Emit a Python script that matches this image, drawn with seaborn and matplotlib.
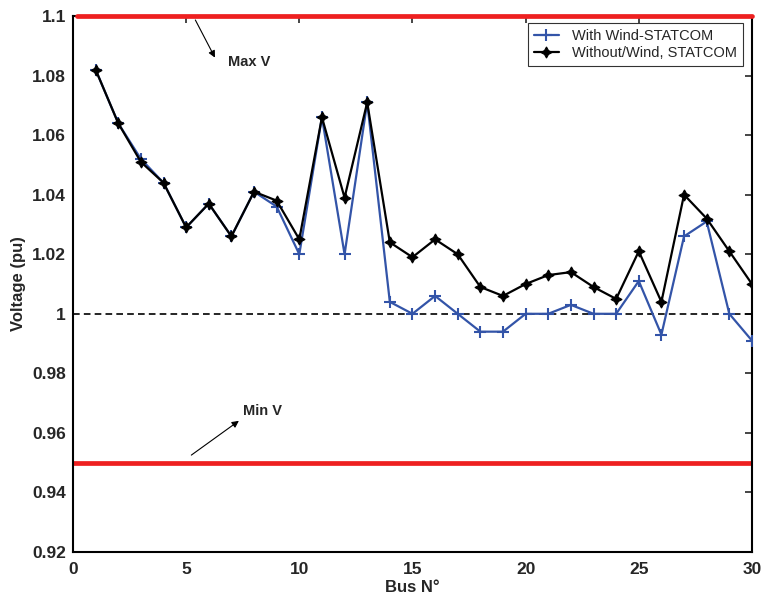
import numpy as np
import pandas as pd
import matplotlib
matplotlib.use("Agg")
import matplotlib.pyplot as plt
import seaborn as sns

# Bus numbers and voltage profiles
buses = list(range(1, 31))
with_wind = [1.082, 1.064, 1.052, 1.044, 1.029, 1.037, 1.026, 1.041, 1.036, 1.020,
             1.066, 1.020, 1.071, 1.004, 1.000, 1.006, 1.000, 0.994, 0.994, 1.000,
             1.000, 1.003, 1.000, 1.000, 1.011, 0.993, 1.026, 1.031, 1.000, 0.991]
without_wind = [1.082, 1.064, 1.051, 1.044, 1.029, 1.037, 1.026, 1.041, 1.038, 1.025,
                1.066, 1.039, 1.071, 1.024, 1.019, 1.025, 1.020, 1.009, 1.006, 1.010,
                1.013, 1.014, 1.009, 1.005, 1.021, 1.004, 1.040, 1.032, 1.021, 1.010]
max_v = 1.1
min_v = 0.95
nominal_v = 1.0
y_ticks = [0.92, 0.94, 0.96, 0.98, 1.0, 1.02, 1.04, 1.06, 1.08, 1.1]
y_tick_labels = ["0.92", "0.94", "0.96", "0.98", "1", "1.02", "1.04", "1.06", "1.08", "1.1"]

sns.set_style("white")
plt.rcParams['font.family'] = ['Liberation Sans', 'DejaVu Sans']

df = pd.DataFrame({"bus": buses, "with": with_wind, "without": without_wind})

fig = plt.figure(figsize=(7.61, 5.98), dpi=100)
ax = fig.add_axes([0.0959, 0.0769, 0.8922, 0.8963])

# limit lines
ax.axhline(max_v, xmin=0.006, color="#ee2020", lw=3.4, zorder=5, clip_on=False)
ax.axhline(min_v, color="#ee2020", lw=3.4, zorder=1)
ax.axhline(nominal_v, color="black", lw=1.2, ls=(0, (4, 2.5)), zorder=1)

sns.lineplot(data=df, x="bus", y="with", ax=ax, color="#3354a8", lw=1.6,
             marker="+", markersize=9, markeredgewidth=1.5, markeredgecolor="#3354a8",
             label="With Wind-STATCOM", zorder=3)
sns.lineplot(data=df, x="bus", y="without", ax=ax, color="black", lw=1.6,
             marker=(4, 1, 0), markersize=8, markeredgewidth=0.8,
             markeredgecolor="black", markerfacecolor="black",
             label="Without/Wind, STATCOM", zorder=4)

ax.annotate("", xy=(6.33, 1.0852), xytext=(5.35, 1.0995),
            arrowprops=dict(arrowstyle="-|>", color="black", lw=0.8, mutation_scale=10))
ax.text(6.85, 1.0845, "Max V", fontsize=10.5, fontweight="bold", ha="left", va="center")

ax.annotate("", xy=(7.43, 0.9646), xytext=(5.13, 0.952),
            arrowprops=dict(arrowstyle="-|>", color="black", lw=0.8, mutation_scale=10))
ax.text(7.5, 0.9672, "Min V", fontsize=10.5, fontweight="bold", ha="left", va="center")

ax.set_xlim(0, 30)
ax.set_ylim(0.92, 1.1)
ax.set_xticks(range(0, 31, 5))
ax.set_yticks(y_ticks)
ax.set_yticklabels(y_tick_labels)
ax.tick_params(direction="in", top=True, right=True, length=5, width=1.2,
               labelsize=12.5)
ax.tick_params(axis="x", pad=7)
ax.tick_params(axis="y", pad=5)
for lab in ax.get_xticklabels() + ax.get_yticklabels():
    lab.set_fontweight("bold")
for sp in ax.spines.values():
    sp.set_linewidth(1.5)
    sp.set_color("black")

ax.set_xlabel("Bus N°", fontsize=12, fontweight="bold", labelpad=2)
ax.set_ylabel("Voltage (pu)", fontsize=12, fontweight="bold", labelpad=4)

leg = ax.legend(loc="upper right", bbox_to_anchor=(0.987, 0.987), fontsize=10.5,
                frameon=True, fancybox=False, edgecolor="black", handlelength=1.7,
                handletextpad=0.9, labelspacing=0.22, borderpad=0.42,
                borderaxespad=0)
leg.get_frame().set_linewidth(0.8)

fig.savefig("out.png", dpi=100)
